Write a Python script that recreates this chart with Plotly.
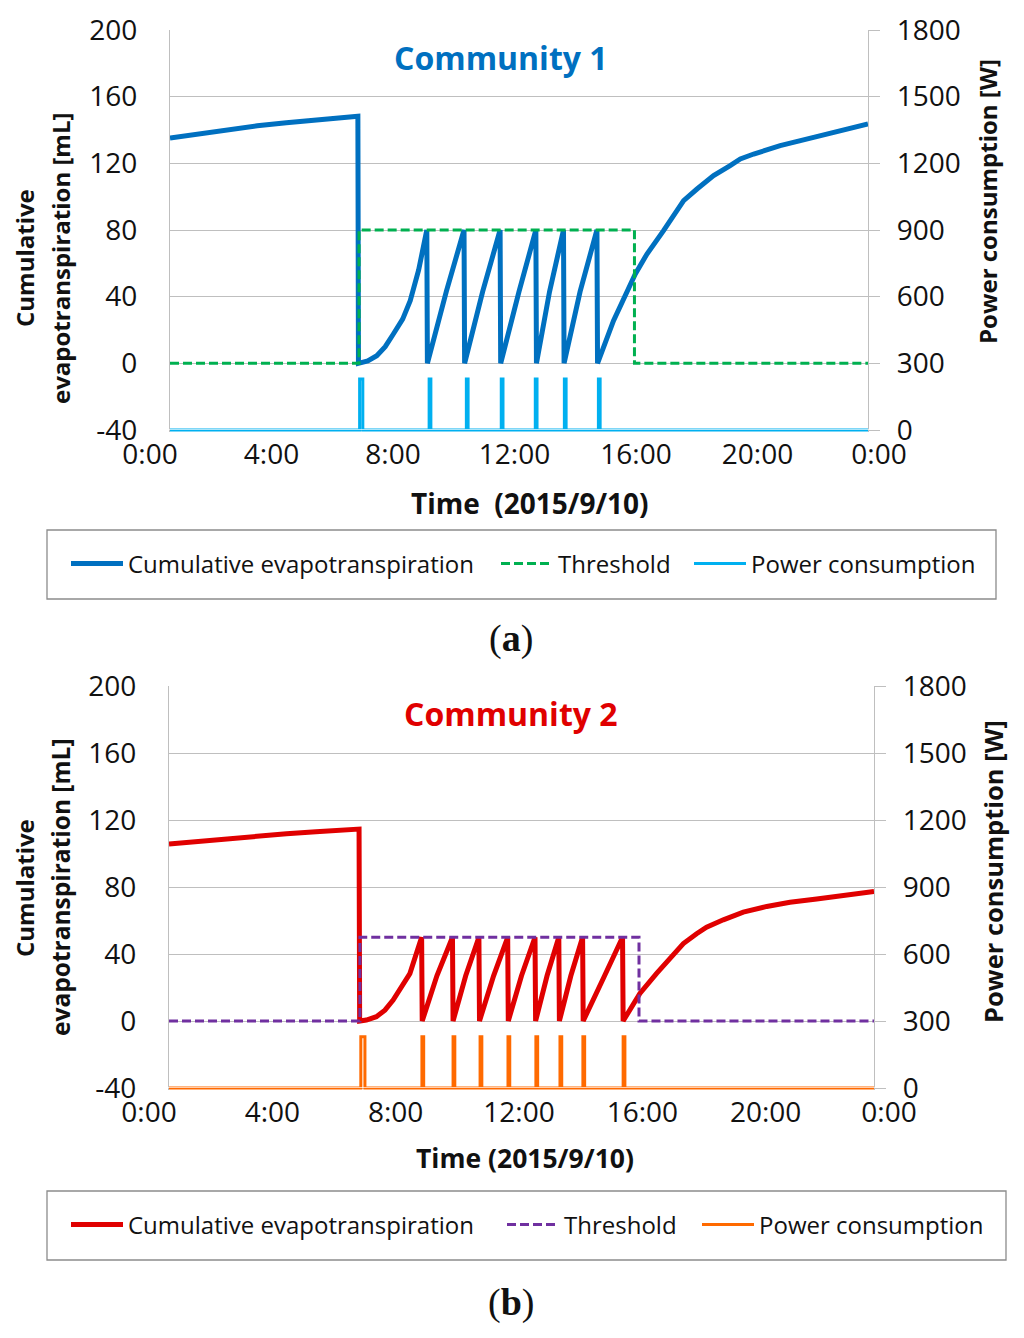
import plotly.graph_objects as go

W, H = 1024, 1338
OFF = 8  # the page body adds an 8px margin around the figure

# ---------------- Community 1 data (hours of 2015/9/10) ----------------
c1_et_time = [0, 1, 2, 3, 4, 5, 6, 6.46,
              6.48, 6.8, 7.11, 7.4, 7.68, 8.0, 8.26, 8.55, 8.83,
              8.85, 9.5, 10.11,
              10.13, 10.75, 11.35,
              11.37, 12.0, 12.58,
              12.60, 13.05, 13.53,
              13.55, 14.1, 14.68,
              14.70, 15.25, 16.0, 16.4, 16.97, 17.43, 17.66, 18.12, 18.69, 19.26,
              19.61, 20.07, 20.98, 22.13, 22.82, 24.0]
c1_et_val = [135.2, 137.8, 140.3, 142.5, 144.3, 146.0, 147.6, 148.3,
             0, 1.5, 4.6, 10, 17.6, 26.5, 37.6, 56, 80,
             0, 43, 80,
             0, 43, 80,
             0, 43, 80,
             0, 43, 80,
             0, 43, 80,
             0, 25.6, 53.6, 65.6, 79.6, 91.6, 97.6, 104.6, 112.6, 118.6,
             122.6, 125.6, 130.6, 135.6, 138.6, 143.6]
c1_thr_time = [0, 6.5, 15.97, 24]
c1_thr_val = [0, 80, 0, 0]
c1_pump_on = [6.52, 8.91, 10.19, 11.39, 12.56, 13.56, 14.73]
c1_pump_off = [6.63, 8.97, 10.25, 11.45, 12.62, 13.62, 14.79]
c1_pump_w = [230, 230, 230, 230, 230, 230, 230]

# ---------------- Community 2 data ----------------
c2_et_time = [0, 1, 2, 3, 4, 5, 6, 6.47,
              6.49, 6.72, 7.06, 7.35, 7.63, 7.9, 8.2, 8.6,
              8.62, 9.12, 9.65,
              9.67, 10.1, 10.55,
              10.57, 11.05, 11.53,
              11.55, 12.0, 12.46,
              12.48, 12.87, 13.27,
              13.29, 13.68, 14.08,
              14.10, 14.8, 15.44,
              15.46, 16.03, 16.6, 17.05, 17.51, 17.96, 18.3, 18.87, 19.55,
              20.35, 21.14, 22.05, 22.84, 24.0]
c2_et_val = [105.6, 107.3, 108.9, 110.4, 111.8, 113.0, 114.1, 114.6,
             0, 0.6, 2.6, 6.5, 12.5, 19.5, 28.3, 50,
             0, 27, 50,
             0, 27, 50,
             0, 27, 50,
             0, 27, 50,
             0, 27, 50,
             0, 27, 50,
             0, 26, 50,
             0, 16.5, 28.4, 37.3, 46.2, 52.1, 56.0, 60.4, 65.0,
             68.4, 70.9, 72.9, 74.9, 77.4]
c2_thr_time = [0, 6.5, 16.0, 24]
c2_thr_val = [0, 50, 0, 0]
c2_pump_on = [6.53, 8.61, 9.67, 10.59, 11.54, 12.49, 13.31, 14.09, 15.46]
c2_pump_off = [6.67, 8.67, 9.73, 10.65, 11.60, 12.55, 13.37, 14.15, 15.52]
c2_pump_w = [230, 230, 230, 230, 230, 230, 230, 230, 230]

tick_hours = [0, 4, 8, 12, 16, 20, 24]
tick_text = ["0:00", "4:00", "8:00", "12:00", "16:00", "20:00", "0:00"]
left_ticks = [-40, 0, 40, 80, 120, 160, 200]
left_text = ["-40", "0", "40", "80", "120", "160", "200"]
right_ticks = [0, 300, 600, 900, 1200, 1500, 1800]

# colours
BLUE, GREEN, SKY = "#0070C0", "#00B050", "#00B0F0"
RED, PURPLE, ORANGE = "#E00000", "#7030A0", "#FF6A00"
GRID = "#BFBFBF"
FONT = "Open Sans"


def pump_series(on, off, watts):
    x, y = [0.0], [0.0]
    for a, b, w in zip(on, off, watts):
        x += [a, b]
        y += [w, 0]
    x.append(24.0)
    y.append(0.0)
    return x, y


def fx(p):
    return (p - OFF) / W


def fy(p):
    return 1 - (p - OFF) / H


fig = go.Figure()

# ---- top chart traces ----
fig.add_trace(go.Scatter(x=c1_et_time, y=c1_et_val, mode="lines",
                         line=dict(color=BLUE, width=5),
                         name="Cumulative evapotranspiration",
                         xaxis="x", yaxis="y", legend="legend"))
fig.add_trace(go.Scatter(x=c1_thr_time, y=c1_thr_val, mode="lines",
                         line=dict(color=GREEN, width=3, dash="9px,4px", shape="hv"),
                         name="Threshold", xaxis="x", yaxis="y", legend="legend2"))
px1, pw1 = pump_series(c1_pump_on, c1_pump_off, c1_pump_w)
fig.add_trace(go.Scatter(x=px1, y=pw1, mode="lines",
                         line=dict(color=SKY, width=3, shape="hv"),
                         name="Power consumption", xaxis="x", yaxis="y2", legend="legend3"))

# ---- bottom chart traces ----
fig.add_trace(go.Scatter(x=c2_et_time, y=c2_et_val, mode="lines",
                         line=dict(color=RED, width=5),
                         name="Cumulative evapotranspiration",
                         xaxis="x2", yaxis="y3", legend="legend4"))
fig.add_trace(go.Scatter(x=c2_thr_time, y=c2_thr_val, mode="lines",
                         line=dict(color=PURPLE, width=3, dash="9px,4px", shape="hv"),
                         name="Threshold", xaxis="x2", yaxis="y3", legend="legend5"))
px2, pw2 = pump_series(c2_pump_on, c2_pump_off, c2_pump_w)
fig.add_trace(go.Scatter(x=px2, y=pw2, mode="lines",
                         line=dict(color=ORANGE, width=3, shape="hv"),
                         name="Power consumption", xaxis="x2", yaxis="y4", legend="legend6"))

# label-only axes (empty traces so the subplots exist)
fig.add_trace(go.Scatter(x=[], y=[], xaxis="x3", yaxis="y5", showlegend=False, hoverinfo="skip"))
fig.add_trace(go.Scatter(x=[], y=[], xaxis="x4", yaxis="y6", showlegend=False, hoverinfo="skip"))

tickfont = dict(family=FONT, size=28, color="#111111")

common_x = dict(range=[0, 24], showticklabels=False, showgrid=False,
                zeroline=False, showline=False, fixedrange=True, automargin=False)
common_left = dict(tickvals=left_ticks, ticktext=left_text, showgrid=True, gridcolor=GRID,
                   gridwidth=1.3, zeroline=False, showline=True, linecolor=GRID, linewidth=1.3,
                   ticks="", tickfont=tickfont, ticklabelstandoff=26, fixedrange=True,
                   automargin=False)
common_right = dict(side="right", tickvals=right_ticks, showgrid=False, zeroline=False,
                    showline=True, linecolor=GRID, linewidth=1.3, ticks="outside",
                    ticklen=11, tickcolor=GRID, tickwidth=1.3, tickfont=tickfont,
                    ticklabelstandoff=11, fixedrange=True, automargin=False)
label_x = dict(range=[0, 24], tickvals=tick_hours, ticktext=tick_text, showgrid=False,
               zeroline=False, showline=False, ticks="", tickfont=tickfont, fixedrange=True,
               ticklabelstandoff=5, automargin=False)

fig.update_layout(
    width=W, height=H,
    margin=dict(l=0, r=0, t=0, b=0, pad=0, autoexpand=False),
    paper_bgcolor="white", plot_bgcolor="white",
    showlegend=True,
    font=dict(family=FONT, color="#111111"),
    xaxis=dict(domain=[fx(170), fx(868)], anchor="y", **common_x),
    yaxis=dict(domain=[fy(432), fy(30)], range=[-41.2, 200], anchor="x", **common_left),
    yaxis2=dict(overlaying="y", anchor="x", range=[-9, 1800], **common_right),
    xaxis2=dict(domain=[fx(169), fx(874)], anchor="y3", **common_x),
    yaxis3=dict(domain=[fy(1090), fy(686)], range=[-41.19, 200], anchor="x2", **common_left),
    yaxis4=dict(overlaying="y3", anchor="x2", range=[-8.96, 1800], **common_right),
    xaxis3=dict(domain=[fx(150), fx(879)], anchor="y5", **label_x),
    yaxis5=dict(domain=[fy(430), fy(430) + 0.0005], visible=False, fixedrange=True),
    xaxis4=dict(domain=[fx(149), fx(889)], anchor="y6", **label_x),
    yaxis6=dict(domain=[fy(1088), fy(1088) + 0.0005], visible=False, fixedrange=True),
)

legend_font = dict(family=FONT, size=24, color="#111111")
leg_pos = {"legend": (66, 564), "legend2": (496, 564), "legend3": (689, 564),
           "legend4": (66, 1225), "legend5": (502, 1225), "legend6": (697, 1225)}
for name, (lx, ly) in leg_pos.items():
    fig.update_layout({name: dict(x=fx(lx), y=fy(ly), xanchor="left", yanchor="middle",
                                  orientation="h", bgcolor="rgba(0,0,0,0)", borderwidth=0,
                                  font=legend_font, itemwidth=52, visible=True)})

# legend frames
fig.add_shape(type="rect", xref="paper", yref="paper", x0=fx(47), x1=fx(996),
              y0=fy(599), y1=fy(530), line=dict(color="#8C8C8C", width=1.3))
fig.add_shape(type="rect", xref="paper", yref="paper", x0=fx(47), x1=fx(1006),
              y0=fy(1260), y1=fy(1191), line=dict(color="#8C8C8C", width=1.3))


def ann(text, x, y, size, color="#111111", angle=0, family=FONT):
    fig.add_annotation(text=text, x=fx(x), y=fy(y), xref="paper", yref="paper",
                       xanchor="center", yanchor="middle", showarrow=False,
                       textangle=angle, font=dict(family=family, size=size, color=color))


ann("<b>Community 1</b>", 501, 57, 32, BLUE)
ann("<b>Community 2</b>", 511, 713, 32, RED)
ann("<b>Cumulative</b>", 24, 258, 24, angle=-90)
ann("<b>evapotranspiration [mL]</b>", 60, 259, 24, angle=-90)
ann("<b>Cumulative</b>", 24, 888, 24, angle=-90)
ann("<b>evapotranspiration [mL]</b>", 60, 887, 24.5, angle=-90)
ann("<b>Power consumption [W]</b>", 987, 202, 24, angle=-90)
ann("<b>Power consumption [W]</b>", 993, 872, 25.5, angle=-90)
ann("<b>Time\u00a0 (2015/9/10)</b>", 530, 503, 28)
ann("<b>Time (2015/9/10)</b>", 525, 1158, 26.5)
ann("(<b>a</b>)", 511, 638, 38, family="Liberation Serif")
ann("(<b>b</b>)", 511, 1302, 38, family="Liberation Serif")

fig.write_html("out.html")
